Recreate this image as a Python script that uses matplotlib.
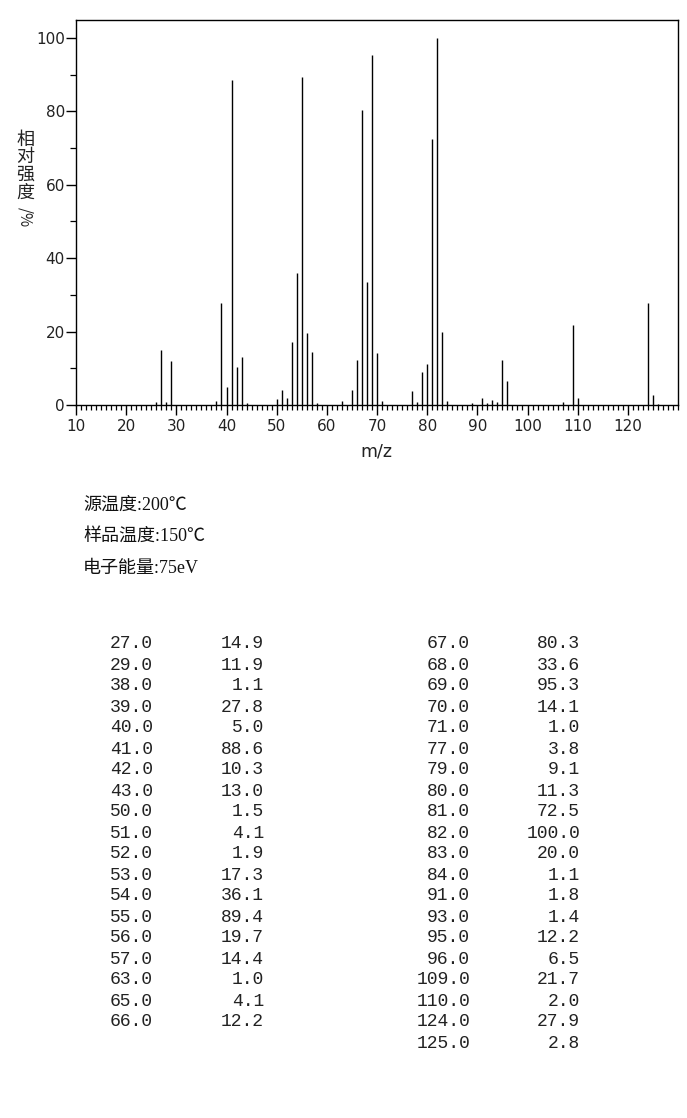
import numpy as np
import matplotlib
matplotlib.use("Agg")
import matplotlib.pyplot as plt
from matplotlib.ticker import MultipleLocator

# peak list (m/z, relative intensity)
left_mz = [27.0, 29.0, 38.0, 39.0, 40.0, 41.0, 42.0, 43.0, 50.0, 51.0,
           52.0, 53.0, 54.0, 55.0, 56.0, 57.0, 63.0, 65.0, 66.0]
left_int = [14.9, 11.9, 1.1, 27.8, 5.0, 88.6, 10.3, 13.0, 1.5, 4.1,
            1.9, 17.3, 36.1, 89.4, 19.7, 14.4, 1.0, 4.1, 12.2]
right_mz = [67.0, 68.0, 69.0, 70.0, 71.0, 77.0, 79.0, 80.0, 81.0, 82.0,
            83.0, 84.0, 91.0, 93.0, 95.0, 96.0, 109.0, 110.0, 124.0, 125.0]
right_int = [80.3, 33.6, 95.3, 14.1, 1.0, 3.8, 9.1, 11.3, 72.5, 100.0,
             20.0, 1.1, 1.8, 1.4, 12.2, 6.5, 21.7, 2.0, 27.9, 2.8]
# small peaks visible in the spectrum but not listed in the table (estimated)
minor_mz = [26, 28, 44, 58, 78, 89, 92, 94, 107, 126]
minor_int = [0.9, 0.9, 0.6, 0.6, 0.8, 0.5, 0.5, 0.7, 0.8, 0.3]

info_lines = ["源温度:200℃", "样品温度:150℃", "电子能量:75eV"]

W, H = 687, 1118
fig = plt.figure(figsize=(W / 100, H / 100), dpi=100)


def fx(px):
    return px / W


def fy(py):
    return 1 - py / H


ax = fig.add_axes([fx(76), fy(405), fx(678) - fx(76), fy(20) - fy(405)])

all_mz = left_mz + right_mz + minor_mz
all_int = left_int + right_int + minor_int
ax.vlines(all_mz, 0, all_int, color="black", lw=1.0)

ax.set_xlim(10, 130)
ax.set_ylim(0, 104.9)
ax.xaxis.set_major_locator(MultipleLocator(10))
ax.xaxis.set_minor_locator(MultipleLocator(1))
ax.yaxis.set_major_locator(MultipleLocator(20))
ax.yaxis.set_minor_locator(MultipleLocator(10))
ax.set_xticks(np.arange(10, 121, 10))

for s in ax.spines.values():
    s.set_linewidth(1.0)
ax.tick_params(axis="x", which="major", length=7, width=1.0, labelsize=11, pad=3)
ax.tick_params(axis="x", which="minor", length=3.5, width=0.9)
ax.tick_params(axis="y", which="major", length=7, width=1.0, labelsize=11, pad=1)
ax.tick_params(axis="y", which="minor", length=4, width=0.9)
for lab in ax.get_xticklabels() + ax.get_yticklabels():
    lab.set_color("#222222")

fig.text(fx(376), fy(452), "m/z", ha="center", va="center", fontsize=12.5,
         color="#222222", family="DejaVu Sans")

# vertical y label
cjk = ["Noto Sans CJK SC", "DejaVu Sans"]
fig.text(fx(25), fy(166), "相\n对\n强\n度", ha="center", va="center",
         fontsize=13, family=cjk, linespacing=0.98, color="#222222")
fig.text(fx(25), fy(217), "/%", ha="center", va="center", rotation=270,
         fontsize=11, family=cjk, color="#222222")

# conditions
for i, line in enumerate(info_lines):
    fig.text(fx(83), fy(505 + i * 31.5), line, ha="left", va="center",
             fontsize=13, family=["Liberation Serif", "Noto Sans CJK SC"],
             color="#111111")

# peak table
mono = "Liberation Mono"
row0, step = 644, 21
for i, (m, v) in enumerate(zip(left_mz, left_int)):
    y = fy(row0 + i * step)
    fig.text(fx(153), y, f"{m:.1f}", ha="right", va="center",
             fontsize=13, family=mono, color="#222222")
    fig.text(fx(264), y, f"{v:.1f}", ha="right", va="center",
             fontsize=13, family=mono, color="#222222")
for i, (m, v) in enumerate(zip(right_mz, right_int)):
    y = fy(row0 + i * step)
    fig.text(fx(470), y, f"{m:.1f}", ha="right", va="center",
             fontsize=13, family=mono, color="#222222")
    fig.text(fx(580), y, f"{v:.1f}", ha="right", va="center",
             fontsize=13, family=mono, color="#222222")

fig.savefig("out.png", dpi=100, facecolor="white")
